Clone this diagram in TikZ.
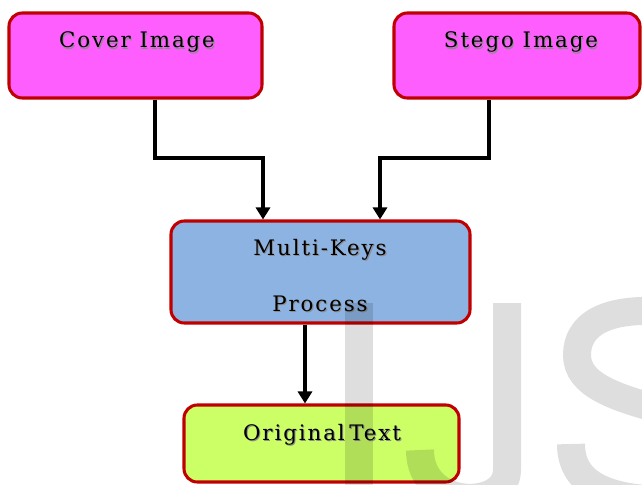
\documentclass[tikz,border=0pt]{standalone}
\usepackage{fontspec}
\setmainfont{DejaVu Serif}
\usetikzlibrary{arrows.meta}
\definecolor{boxred}{HTML}{C00000}
\definecolor{pinkfill}{HTML}{FF5EFF}
\definecolor{bluefill}{HTML}{8DB3E2}
\definecolor{greenfill}{HTML}{CCFF66}
\newcommand{\px}{0.75pt}
\newcommand{\lbl}{\fontsize{16}{19}\selectfont\addfontfeature{LetterSpace=9}}
\tikzset{
  flowbox/.style={draw=boxred, line width=2.3pt, rounded corners=10pt, inner sep=0pt},
  lbltext/.style={anchor=base, inner sep=0pt, font=\lbl, text=black},
  lblshadow/.style={anchor=base, inner sep=0pt, font=\lbl, text=black!45},
  arr/.style={line width=2.6pt, -{Triangle[width=10.5pt,length=9pt]}},
  wmark/.style={line width=21pt, draw=black, opacity=0.13}
}
\newcommand{\boxlabel}[3]{%
  \node[lblshadow] at ([xshift=0.8pt,yshift=-0.8pt]#2) {#3};
  \node[lbltext] (#1) at (#2) {#3};}
\begin{document}
\begin{tikzpicture}[x=\px, y=-\px]
\useasboundingbox (0,0) rectangle (642,485);
\clip (0,0) rectangle (642,485);
\fill[white] (0,0) rectangle (642,485);

% boxes
\node[flowbox, fill=pinkfill, minimum width=253*\px, minimum height=85*\px] (cover) at (135.5,55.5) {};
\node[flowbox, fill=pinkfill, minimum width=246*\px, minimum height=85*\px] (stego) at (517,55.5) {};
\node[flowbox, fill=bluefill, minimum width=299*\px, minimum height=102*\px] (multi) at (320.5,272) {};
\node[flowbox, fill=greenfill, minimum width=275*\px, minimum height=77*\px] (orig) at (321.5,443.5) {};

% labels
\boxlabel{tcover}{137,48}{Cover Image}
\boxlabel{tstego}{521,48}{Stego Image}
\boxlabel{tmulti}{320,255}{Multi-Keys}
\boxlabel{tproc}{320,311}{Process}
\boxlabel{torig}{322,440}{Original\hspace{-3pt}~Text}

% connectors
\coordinate (cb) at (155,158);
\coordinate (mbl) at (263,158);
\coordinate (sb) at (489,158);
\coordinate (mbr) at (380,158);
\coordinate (mo) at (305,0);
\draw[arr] (cover.south -| cb) -- (cb) -- (mbl) -- (multi.north -| mbl);
\draw[arr] (stego.south -| sb) -- (sb) -- (mbr) -- (multi.north -| mbr);
\draw[arr] (multi.south -| mo) -- (orig.north -| mo);

% background lettering
\path[wmark] (359,303) -- (359,500);
\path[wmark] (507,303) -- (507,470) .. controls (507,510) and (420,510) .. (420,450);
\path[wmark] (670,312) .. controls (605,306) and (577,325) .. (577,355)
  .. controls (577,385) and (615,398) .. (670,412);
\path[wmark] (571,444) .. controls (571,480) and (600,500) .. (670,500);
\end{tikzpicture}
\end{document}
